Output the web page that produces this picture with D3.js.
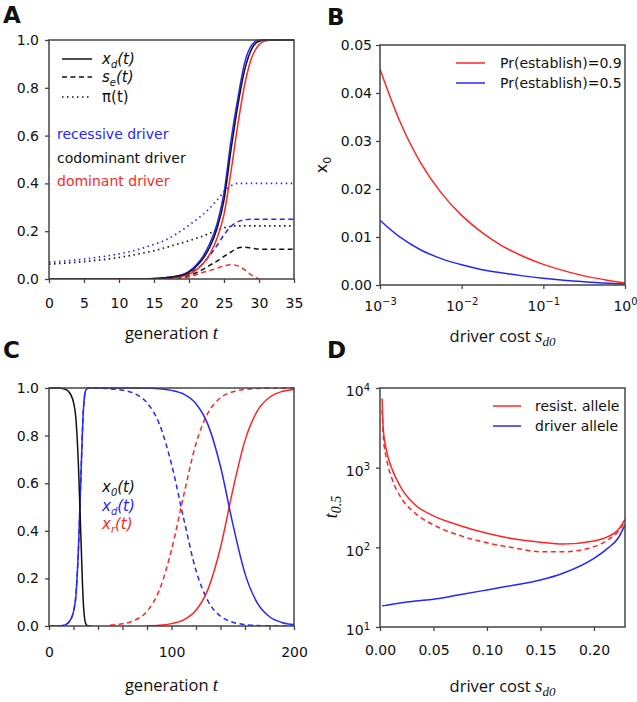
<!DOCTYPE html>
<html>
<head>
<meta charset="utf-8">
<script src="https://cdnjs.cloudflare.com/ajax/libs/d3/7.8.5/d3.min.js"></script>
<style>
body { margin: 0; background: #fff; }
svg text { font-family: "DejaVu Sans", sans-serif; fill: #111; }
.tick text { font-size: 14px; }
.serif { font-family: "Liberation Serif", serif; font-style: italic; }
.title { font-family: "Open Sans", sans-serif; font-size: 16.5px; }
</style>
</head>
<body>
<svg id="fig" width="637" height="702"></svg>
<script>
// ---- panel A : generation 0..35 ----
var tA = [0,1,2,3,4,5,6,7,8,9,10,11,12,13,14,15,16,17,18,19,20,21,22,23,24,25,26,27,28,29,30,31,32,33,34,35];
// x_d(t)
var xdRec = [0,0,0,0,0,0,0,0,0,0,0,0,0,0.0005,0.001,0.002,0.004,0.007,0.011,0.018,0.032,0.058,0.095,0.15,0.23,0.36,0.58,0.76,0.91,0.98,1,1,1,1,1,1];
var xdCod = [0,0,0,0,0,0,0,0,0,0,0,0,0,0.0004,0.001,0.002,0.003,0.006,0.010,0.016,0.028,0.051,0.085,0.135,0.21,0.33,0.54,0.73,0.88,0.965,0.995,1,1,1,1,1];
var xdDom = [0,0,0,0,0,0,0,0,0,0,0,0,0,0.0003,0.0007,0.001,0.002,0.004,0.007,0.011,0.02,0.037,0.064,0.105,0.17,0.27,0.45,0.65,0.82,0.93,0.98,0.997,1,1,1,1];
// s_e(t)
var seRec = [0,0,0,0,0,0,0,0,0,0,0,0,0,0,0,0.001,0.002,0.003,0.005,0.012,0.024,0.04,0.065,0.10,0.14,0.185,0.22,0.24,0.248,0.25,0.25,0.25,0.25,0.25,0.25,0.25];
var seCod = [0,0,0,0,0,0,0,0,0,0,0,0,0,0,0,0.001,0.002,0.003,0.005,0.008,0.015,0.026,0.04,0.058,0.075,0.095,0.113,0.13,0.133,0.129,0.125,0.125,0.125,0.125,0.125,0.125];
var seDom = [0,0,0,0,0,0,0,0,0,0,0,0,0,0,0,0.0005,0.001,0.0015,0.002,0.004,0.008,0.018,0.028,0.036,0.045,0.055,0.06,0.055,0.038,0.015,0,null,null,null,null,null];
// pi(t)
var piRec = [0.07,0.072,0.075,0.077,0.08,0.083,0.087,0.091,0.095,0.1,0.105,0.111,0.118,0.126,0.135,0.145,0.155,0.168,0.185,0.204,0.225,0.247,0.27,0.298,0.33,0.365,0.39,0.4,0.4,0.4,0.4,0.4,0.4,0.4,0.4,0.4];
var piCod = [0.062,0.064,0.066,0.068,0.07,0.073,0.076,0.079,0.082,0.086,0.09,0.095,0.1,0.106,0.112,0.118,0.126,0.134,0.143,0.151,0.16,0.17,0.18,0.192,0.205,0.214,0.22,0.222,0.222,0.222,0.222,0.222,0.222,0.222,0.222,0.222];
var driverTypes = ["recessive driver", "codominant driver", "dominant driver"];

// ---- panel B : x0 against driver cost ----
var sB = [0.001,0.00178,0.00316,0.00562,0.01,0.0178,0.0316,0.0562,0.1,0.178,0.316,0.562,1];
var x0Pr09 = [0.045,0.0338,0.0254,0.0192,0.0145,0.0109,0.0081,0.0060,0.0043,0.0030,0.0019,0.0011,0.0004];
var x0Pr05 = [0.0135,0.0099,0.0073,0.0055,0.0042,0.0032,0.0025,0.0019,0.0014,0.0010,0.0007,0.0004,0.0002];
var legendB = ["Pr(establish)=0.9", "Pr(establish)=0.5"];

// ---- panel C : generation 0..200 ----
var tC = [0,5,10,12,14,16,18,20,22,24,26,28,30,32,35,40,50,60,70,80,90,100,110,120,130,140,150,160,170,180,190,200];
var x0C   = [1,1,0.999,0.997,0.993,0.985,0.97,0.94,0.87,0.68,0.38,0.1,0.01,0,0,null,null,null,null,null,null,null,null,null,null,null,null,null,null,null,null,null];
var xdC   = [0,0,0.001,0.003,0.007,0.015,0.03,0.06,0.13,0.32,0.62,0.9,0.99,1,1,1,1,1,1,0.999,0.997,0.99,0.974,0.934,0.843,0.67,0.43,0.22,0.097,0.039,0.015,0.006];
var xrC   = [null,null,null,null,null,null,null,null,null,null,null,null,null,null,null,null,null,null,null,0.001,0.003,0.010,0.026,0.066,0.157,0.33,0.57,0.78,0.903,0.961,0.985,0.994];
var xdCd  = [0,0,0.001,0.003,0.007,0.015,0.03,0.06,0.13,0.32,0.62,0.9,0.99,1,1,1,0.996,0.991,0.976,0.938,0.85,0.68,0.45,0.233,0.103,0.041,0.016,0.006,0.002,0.001,0,0];
var xrCd  = [null,null,null,null,null,null,null,null,null,null,null,null,null,null,null,null,0.004,0.009,0.024,0.062,0.15,0.32,0.55,0.767,0.897,0.959,0.984,0.994,0.998,0.999,1,1];

// ---- panel D : t0.5 against driver cost ----
var sD = [0.002,0.003,0.0063,0.011,0.02,0.033,0.05,0.073,0.1,0.126,0.15,0.171,0.2,0.213,0.2225,0.229];
var tResist   = [7400,3120,1590,980,550,340,248,191,150,127,116,110,120,136,165,224];
var tResistD  = [5300,2500,1250,740,413,267,191,143,114,98,88,88,102,124,157,210];
var tDriver   = [18.5,18.5,18.8,19.3,20.2,21.2,22.3,25.2,29.2,33.7,38.9,47.3,72.7,97.7,130,191];
var legendD = ["resist. allele", "driver allele"];

var RED = "#ff2626", BLUE = "#2626ff", BLACK = "#111", INK = "#444";
var svg = d3.select("#fig");
var clipCount = 0;

function supLabel(sel, base) {
    sel.selectAll(".tick text").each(function(d) {
        var t = d3.select(this);
        var e = Math.round(Math.log10(d));
        t.text(null);
        t.append("tspan").text(base);
        t.append("tspan").attr("dy", "-0.55em").style("font-size", "10px")
            .text(String(e).replace("-", "\u2212"));
    });
}

// frame, axes and a clipped group for the curves
function makePanel(box, x, y, xAxis, yAxis) {
    var id = "clip" + (clipCount++);
    svg.append("clipPath").attr("id", id).append("rect")
        .attr("x", box.l).attr("y", box.t - 1)
        .attr("width", box.r - box.l).attr("height", box.b - box.t + 1);
    var plot = svg.append("g").attr("clip-path", "url(#" + id + ")");

    var gx = svg.append("g").attr("transform", "translate(0," + box.b + ")").call(xAxis);
    var gy = svg.append("g").attr("transform", "translate(" + box.l + ",0)").call(yAxis);
    [gx, gy].forEach(function(g) {
        g.select(".domain").remove();
        g.selectAll(".tick line").attr("stroke", INK).attr("stroke-width", 1.3);
        g.selectAll(".tick text").attr("fill", "#111");
    });
    svg.append("rect")
        .attr("x", box.l).attr("y", box.t)
        .attr("width", box.r - box.l).attr("height", box.b - box.t)
        .attr("fill", "none").attr("stroke", INK).attr("stroke-width", 1.5);
    return {plot: plot, gx: gx, gy: gy};
}

function drawLine(g, xs, ys, x, y, color, dash, width, curve) {
    var pts = xs.map(function(v, i) { return [v, ys[i]]; });
    var line = d3.line()
        .defined(function(d) { return d[1] !== null; })
        .x(function(d) { return x(d[0]); })
        .y(function(d) { return y(d[1]); })
        .curve(curve || d3.curveMonotoneX);
    g.append("path").datum(pts)
        .attr("d", line)
        .attr("fill", "none")
        .attr("stroke", color)
        .attr("stroke-width", width || 1.5)
        .attr("stroke-dasharray", dash || null);
}

function panelLetter(txt, x, y) {
    svg.append("text").attr("x", x).attr("y", y)
        .style("font-size", "23px").style("font-weight", "bold").text(txt);
}

function axisTitle(cx, y, words, sym, sub) {
    var t = svg.append("text").attr("x", cx).attr("y", y)
        .attr("text-anchor", "middle").attr("class", "title");
    t.append("tspan").text(words);
    t.append("tspan").attr("class", "serif").style("font-size", "19px").text(sym);
    if (sub) t.append("tspan").attr("class", "serif").attr("dy", 4).style("font-size", "13px").text(sub);
}

var DASH = "5,3.5", DOT = "1.5,3.5";

// ================= A =================
var boxA = {l: 49, r: 294, t: 40, b: 279};
var xA = d3.scaleLinear().domain([0, 35]).range([boxA.l, boxA.r]);
var yA = d3.scaleLinear().domain([0, 1]).range([boxA.b, boxA.t]);
var pA = makePanel(boxA, xA, yA,
    d3.axisBottom(xA).tickValues([0,5,10,15,20,25,30,35]).tickSize(4).tickPadding(15),
    d3.axisLeft(yA).tickValues([0,0.2,0.4,0.6,0.8,1]).tickFormat(d3.format(".1f")).tickSize(4).tickPadding(6));

drawLine(pA.plot, tA, piRec, xA, yA, BLUE, DOT, 1.7);
drawLine(pA.plot, tA, piCod, xA, yA, BLACK, DOT, 1.7);
drawLine(pA.plot, tA, seRec, xA, yA, BLUE, DASH);
drawLine(pA.plot, tA, seCod, xA, yA, BLACK, DASH);
drawLine(pA.plot, tA, seDom, xA, yA, RED, DASH);
drawLine(pA.plot, tA, xdRec, xA, yA, BLUE);
drawLine(pA.plot, tA, xdDom, xA, yA, RED);
drawLine(pA.plot, tA, xdCod, xA, yA, BLACK);

// legend A
var legA = [
    {dash: null, y: 59, main: "x", sub: "d", tail: "(t)", it: true},
    {dash: DASH, y: 77, main: "s", sub: "e", tail: "(t)", it: true},
    {dash: DOT, y: 97, main: "\u03c0", sub: "", tail: "(t)", it: false}
];
legA.forEach(function(d) {
    svg.append("line").attr("x1", 62).attr("x2", 92).attr("y1", d.y).attr("y2", d.y)
        .attr("stroke", BLACK).attr("stroke-width", 1.5).attr("stroke-dasharray", d.dash);
    var t = svg.append("text").attr("x", 102).attr("y", d.y + 5)
        .style("font-size", "15px").style("font-style", d.it ? "italic" : "normal");
    t.append("tspan").text(d.main);
    if (d.sub) {
        t.append("tspan").attr("dy", 4).style("font-size", "10px").text(d.sub);
        t.append("tspan").attr("dy", -4).text(d.tail);
    } else {
        t.append("tspan").text(d.tail);
    }
});
var typeColors = [BLUE, BLACK, RED];
svg.selectAll(".drvType").data(driverTypes).enter().append("text")
    .attr("x", 57).attr("y", function(d, i) { return 139 + i * 23.5; })
    .style("fill", function(d, i) { return typeColors[i]; })
    .style("font-size", "14px").text(function(d) { return d; });

axisTitle((boxA.l + boxA.r) / 2, 339, "generation ", "t", null);
panelLetter("A", 3, 23);

// ================= B =================
var boxB = {l: 380, r: 625, t: 45, b: 285};
var xB = d3.scaleLog().domain([0.001, 1]).range([boxB.l, boxB.r]);
var yB = d3.scaleLinear().domain([0, 0.05]).range([boxB.b, boxB.t]);
var pB = makePanel(boxB, xB, yB,
    d3.axisBottom(xB).tickValues([0.001, 0.01, 0.1, 1]).tickSize(4).tickPadding(12),
    d3.axisLeft(yB).tickValues([0,0.01,0.02,0.03,0.04,0.05]).tickFormat(d3.format(".2f")).tickSize(4).tickPadding(4));
supLabel(pB.gx, "10");
drawLine(pB.plot, sB, x0Pr09, xB, yB, RED, null, 1.5, d3.curveCatmullRom);
drawLine(pB.plot, sB, x0Pr05, xB, yB, BLUE, null, 1.5, d3.curveCatmullRom);

[RED, BLUE].forEach(function(c, i) {
    svg.append("line").attr("x1", 456).attr("x2", 485)
        .attr("y1", 63 + i * 20).attr("y2", 63 + i * 20)
        .attr("stroke", c).attr("stroke-width", 1.5);
    svg.append("text").attr("x", 500).attr("y", 68 + i * 20)
        .style("font-size", "14px").text(legendB[i]);
});
var ylabB = svg.append("text").attr("transform", "translate(327,165) rotate(-90)")
    .attr("text-anchor", "middle").style("font-size", "16px");
ylabB.append("tspan").text("x");
ylabB.append("tspan").attr("dy", 4).style("font-size", "11px").text("0");

axisTitle((boxB.l + boxB.r) / 2, 342, "driver cost  ", "s", "d0");
panelLetter("B", 327, 25);

// ================= C =================
var boxC = {l: 49, r: 294, t: 388, b: 626};
var xC = d3.scaleLinear().domain([0, 200]).range([boxC.l, boxC.r]);
var yC = d3.scaleLinear().domain([0, 1]).range([boxC.b, boxC.t]);
var pC = makePanel(boxC, xC, yC,
    d3.axisBottom(xC).tickValues(d3.range(0, 201, 20)).tickSize(4).tickPadding(17)
        .tickFormat(function(d) { return d % 100 === 0 ? d : ""; }),
    d3.axisLeft(yC).tickValues([0,0.2,0.4,0.6,0.8,1]).tickFormat(d3.format(".1f")).tickSize(4).tickPadding(6));

drawLine(pC.plot, tC, xdCd, xC, yC, BLUE, DASH);
drawLine(pC.plot, tC, xrCd, xC, yC, RED, DASH);
drawLine(pC.plot, tC, xrC, xC, yC, RED);
drawLine(pC.plot, tC, xdC, xC, yC, BLUE);
drawLine(pC.plot, tC, x0C, xC, yC, BLACK);

var labC = [{s: "0", c: BLACK}, {s: "d", c: BLUE}, {s: "r", c: RED}];
labC.forEach(function(d, i) {
    var t = svg.append("text").attr("x", 102).attr("y", 492 + i * 18.5)
        .style("font-size", "15px").style("font-style", "italic").style("fill", d.c);
    t.append("tspan").text("x");
    t.append("tspan").attr("dy", 4).style("font-size", "10px").text(d.s);
    t.append("tspan").attr("dy", -4).text("(t)");
});
axisTitle((boxC.l + boxC.r) / 2, 691, "generation ", "t", null);
panelLetter("C", 3, 358);

// ================= D =================
var boxD = {l: 380, r: 625, t: 388, b: 627};
var xD = d3.scaleLinear().domain([0, 0.229]).range([boxD.l, boxD.r]);
var yD = d3.scaleLog().domain([10, 10000]).range([boxD.b, boxD.t]);
var pD = makePanel(boxD, xD, yD,
    d3.axisBottom(xD).tickValues([0,0.05,0.1,0.15,0.2]).tickFormat(d3.format(".2f")).tickSize(4).tickPadding(14),
    d3.axisLeft(yD).tickValues([10,100,1000,10000]).tickSize(4).tickPadding(6));
supLabel(pD.gy, "10");
pD.gy.selectAll(".tick text").attr("dy", "0.55em");

drawLine(pD.plot, sD, tResistD, xD, yD, RED, DASH);
drawLine(pD.plot, sD, tResist, xD, yD, RED);
drawLine(pD.plot, sD, tDriver, xD, yD, BLUE);

[RED, BLUE].forEach(function(c, i) {
    svg.append("line").attr("x1", 493).attr("x2", 521)
        .attr("y1", 406 + i * 20).attr("y2", 406 + i * 20)
        .attr("stroke", c).attr("stroke-width", 1.5);
    svg.append("text").attr("x", 535).attr("y", 411 + i * 20)
        .style("font-size", "14px").text(legendD[i]);
});
var ylabD = svg.append("text").attr("transform", "translate(337,507) rotate(-90)")
    .attr("text-anchor", "middle").attr("class", "serif").style("font-size", "18px");
ylabD.append("tspan").text("t");
ylabD.append("tspan").attr("dy", 4).style("font-size", "14px").text("0.5");

axisTitle((boxD.l + boxD.r) / 2, 692, "driver cost  ", "s", "d0");
panelLetter("D", 327, 358);
</script>
</body>
</html>
